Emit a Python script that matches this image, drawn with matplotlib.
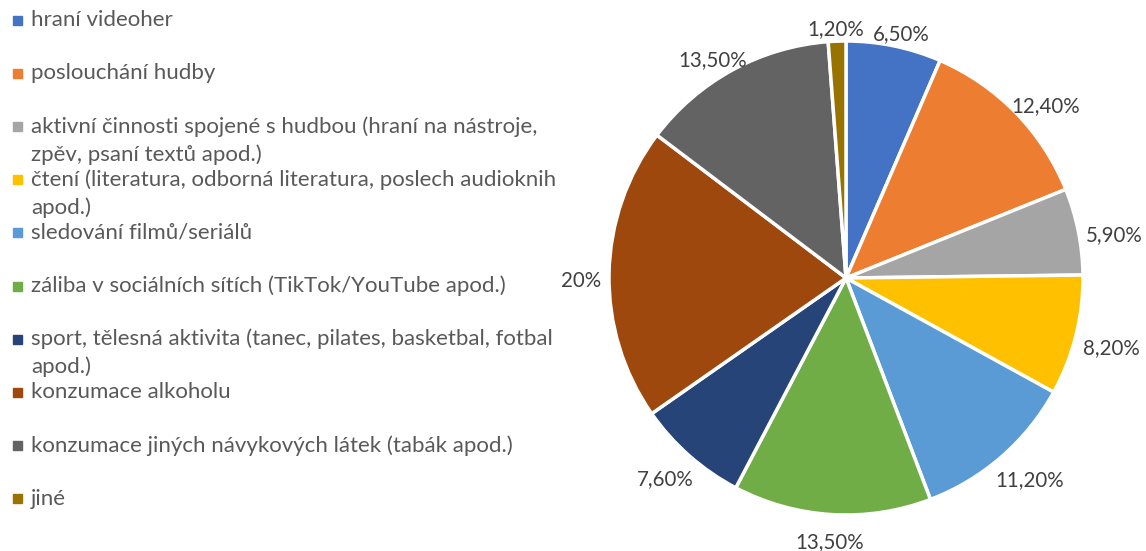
import numpy as np
import matplotlib.pyplot as plt
from matplotlib.patches import Rectangle

# data
labels = [
    "hraní videoher",
    "poslouchání hudby",
    "aktivní činnosti spojené s hudbou (hraní na nástroje,\nzpěv, psaní textů apod.)",
    "čtení (literatura, odborná literatura, poslech audioknih\napod.)",
    "sledování filmů/seriálů",
    "záliba v sociálních sítích (TikTok/YouTube apod.)",
    "sport, tělesná aktivita (tanec, pilates, basketbal, fotbal\napod.)",
    "konzumace alkoholu",
    "konzumace jiných návykových látek (tabák apod.)",
    "jiné",
]
values = [6.5, 12.4, 5.9, 8.2, 11.2, 13.5, 7.6, 20.0, 13.5, 1.2]
colors = ["#4472C4", "#ED7D31", "#A5A5A5", "#FFC000", "#5B9BD5",
          "#70AD47", "#264478", "#9E480E", "#636363", "#997300"]

plt.rcParams['font.family'] = ['Lato', 'DejaVu Sans']

W, H = 1146, 551
fig = plt.figure(figsize=(W / 100, H / 100), dpi=100)

# pie axes: centre (846, 278), radius 237 px
cx, cy, R = 846, 278, 237
ax = fig.add_axes([(cx - R) / W, (H - cy - R) / H, 2 * R / W, 2 * R / H])


def fmt(v):
    if float(v).is_integer():
        return f"{int(v)}%"
    return f"{v:.2f}%".replace('.', ',')


wedges, texts = ax.pie(values, colors=colors, startangle=90, counterclock=False,
                       wedgeprops=dict(edgecolor='white', linewidth=2.5))
ax.set_xlim(-1, 1)
ax.set_ylim(-1, 1)

# data labels outside, nearest edge kept a small gap from the rim (Excel style)
gap = 8 / R
renderer = fig.canvas.get_renderer()
for w, v in zip(wedges, values):
    th = np.deg2rad((w.theta1 + w.theta2) / 2)
    t = ax.text(0, 0, fmt(v), ha='center', va='center', fontsize=14.8, color='#404040')
    bb = t.get_window_extent(renderer)
    hw, hh = bb.width / 2 / R, bb.height / 2 / R * 0.8
    drop = (8 - 4 * np.sin(th)) / R   # Excel text boxes sit a bit lower
    t.set_position(((1 + gap + hw) * np.cos(th), (1 + gap + hh) * np.sin(th) - drop))

# legend drawn by hand
y0, step, lh = 20, 53.2, 28
for i, (lab, col) in enumerate(zip(labels, colors)):
    y = y0 + i * step
    fig.patches.append(Rectangle((13 / W, 1 - (y + 4.5) / H), 9 / W, 9 / H,
                                 transform=fig.transFigure, color=col))
    for j, line in enumerate(lab.split('\n')):
        fig.text(31 / W, 1 - (y + j * lh) / H, line, ha='left', va='center',
                 fontsize=16, color='#595959')

fig.savefig('out.png', dpi=100)
